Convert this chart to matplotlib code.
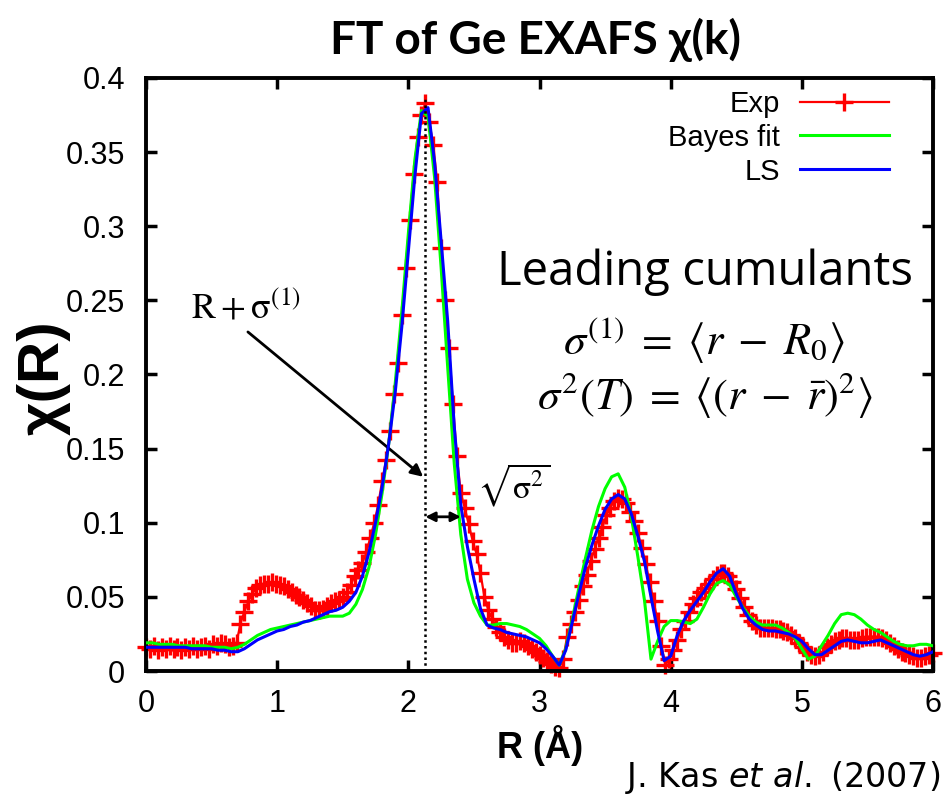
import numpy as np
import matplotlib
matplotlib.use('Agg')
import matplotlib.pyplot as plt

plt.rcParams['font.family'] = 'Liberation Sans'
plt.rcParams['mathtext.fontset'] = 'stix'

# measured FT magnitude, R grid 0..6 A
r_exp = np.round(np.arange(201) * 0.03, 2)
chi_exp = [
    0.016, 0.015, 0.017, 0.014, 0.016, 0.015, 0.017, 0.015, 0.016, 0.014,
    0.016, 0.015, 0.017, 0.015, 0.016, 0.017, 0.015, 0.018, 0.017, 0.019,
    0.018, 0.016, 0.017, 0.019, 0.032, 0.040, 0.047, 0.052, 0.056, 0.058,
    0.059, 0.059, 0.060, 0.059, 0.058, 0.057, 0.055, 0.053, 0.051, 0.050,
    0.048, 0.046, 0.044, 0.041, 0.041, 0.042, 0.044, 0.046, 0.047, 0.048,
    0.050, 0.053, 0.058, 0.064, 0.068, 0.073, 0.080, 0.090, 0.100, 0.112,
    0.128, 0.142, 0.162, 0.187, 0.208, 0.240, 0.272, 0.304, 0.335, 0.360,
    0.375, 0.383, 0.370, 0.355, 0.330, 0.285, 0.250, 0.218, 0.180, 0.145,
    0.120, 0.110, 0.099, 0.088, 0.079, 0.066, 0.050, 0.041, 0.035, 0.030,
    0.026, 0.023, 0.021, 0.019, 0.019, 0.020, 0.019, 0.017, 0.015, 0.013,
    0.011, 0.009, 0.007, 0.005, 0.003, 0.002, 0.008, 0.023, 0.032, 0.040,
    0.048, 0.057, 0.065, 0.074, 0.082, 0.090, 0.097, 0.105, 0.110, 0.115,
    0.117, 0.116, 0.113, 0.107, 0.101, 0.093, 0.083, 0.072, 0.060, 0.047,
    0.034, 0.017, 0.004, 0.008, 0.014, 0.021, 0.028, 0.034, 0.040, 0.045,
    0.049, 0.053, 0.056, 0.059, 0.062, 0.065, 0.066, 0.066, 0.064, 0.060,
    0.055, 0.049, 0.043, 0.038, 0.034, 0.031, 0.029, 0.029, 0.029, 0.029,
    0.028, 0.028, 0.027, 0.026, 0.024, 0.022, 0.019, 0.016, 0.013, 0.011,
    0.010, 0.011, 0.013, 0.016, 0.018, 0.020, 0.021, 0.022, 0.022, 0.021,
    0.021, 0.021, 0.022, 0.023, 0.023, 0.023, 0.023, 0.022, 0.021, 0.019,
    0.017, 0.015, 0.013, 0.012, 0.011, 0.010, 0.009, 0.009, 0.010, 0.011,
    0.012,
]

# fits, R grid 0..6 A step 0.05
r_fit = np.round(np.arange(121) * 0.05, 2)
chi_bayes = [
    0.019, 0.019, 0.018, 0.018, 0.018, 0.017, 0.017, 0.017, 0.017, 0.017,
    0.016, 0.016, 0.016, 0.015, 0.016, 0.018, 0.021, 0.024, 0.026, 0.028,
    0.029, 0.030, 0.031, 0.032, 0.033, 0.034, 0.035, 0.036, 0.037, 0.037,
    0.037, 0.039, 0.045, 0.055, 0.070, 0.092, 0.120, 0.153, 0.194, 0.242,
    0.295, 0.345, 0.378, 0.374, 0.333, 0.272, 0.205, 0.140, 0.092, 0.062,
    0.046, 0.037, 0.031, 0.031, 0.032, 0.032, 0.031, 0.030, 0.028, 0.025,
    0.022, 0.017, 0.010, 0.004, 0.015, 0.035, 0.056, 0.076, 0.095, 0.111,
    0.123, 0.131, 0.133, 0.124, 0.104, 0.077, 0.048, 0.008, 0.020, 0.030,
    0.034, 0.034, 0.033, 0.032, 0.035, 0.043, 0.052, 0.059, 0.061, 0.058,
    0.050, 0.043, 0.037, 0.033, 0.031, 0.031, 0.031, 0.029, 0.026, 0.022,
    0.015, 0.008, 0.010, 0.017, 0.024, 0.032, 0.038, 0.039, 0.038, 0.035,
    0.031, 0.028, 0.026, 0.023, 0.020, 0.018, 0.017, 0.017, 0.018, 0.018,
    0.017,
]
chi_ls = [
    0.016, 0.016, 0.016, 0.016, 0.016, 0.016, 0.016, 0.015, 0.015, 0.015,
    0.015, 0.014, 0.014, 0.013, 0.013, 0.015, 0.018, 0.021, 0.023, 0.025,
    0.027, 0.028, 0.030, 0.031, 0.033, 0.034, 0.036, 0.038, 0.040, 0.041,
    0.043, 0.047, 0.053, 0.064, 0.080, 0.100, 0.124, 0.153, 0.188, 0.232,
    0.283, 0.334, 0.376, 0.380, 0.343, 0.290, 0.236, 0.165, 0.112, 0.084,
    0.062, 0.042, 0.031, 0.029, 0.028, 0.026, 0.025, 0.024, 0.023, 0.021,
    0.019, 0.015, 0.010, 0.004, 0.014, 0.033, 0.052, 0.070, 0.085, 0.098,
    0.109, 0.116, 0.119, 0.116, 0.106, 0.091, 0.074, 0.050, 0.027, 0.007,
    0.010, 0.024, 0.034, 0.041, 0.047, 0.053, 0.060, 0.066, 0.069, 0.064,
    0.052, 0.042, 0.035, 0.031, 0.028, 0.027, 0.027, 0.026, 0.025, 0.023,
    0.020, 0.015, 0.011, 0.011, 0.014, 0.017, 0.020, 0.021, 0.020, 0.019,
    0.019, 0.020, 0.021, 0.019, 0.017, 0.015, 0.013, 0.011, 0.010, 0.011,
    0.013,
]

x_ticks = [0, 1, 2, 3, 4, 5, 6]
y_ticks = [0, 0.05, 0.1, 0.15, 0.2, 0.25, 0.3, 0.35, 0.4]
y_labels = ['0', '0.05', '0.1', '0.15', '0.2', '0.25', '0.3', '0.35', '0.4']

# first-shell markers
peak_r = 2.13
peak_top = 0.387
width_end = 2.40
width_level = 0.104

fig = plt.figure(figsize=(9.45, 7.99), dpi=100)
ax = fig.add_axes([0.1545, 0.1602, 0.8328, 0.7422])

ax.plot(r_exp, chi_exp, color='#ff0000', lw=1.6, marker='+', ms=13, mew=2.4,
        clip_on=False, label='Exp', zorder=2)
ax.plot(r_fit, chi_bayes, color='#00ff00', lw=2.2, label='Bayes fit', zorder=3)
ax.plot(r_fit, chi_ls, color='#0000ff', lw=2.2, label='LS', zorder=4)

ax.set_xlim(0, 6)
ax.set_ylim(0, 0.4)
ax.set_xticks(x_ticks)
ax.set_yticks(y_ticks)
ax.set_yticklabels(y_labels)
ax.tick_params(direction='in', length=8, width=2.5, top=True, right=True,
               labelsize=22)
ax.tick_params(axis='y', pad=15)
ax.tick_params(axis='x', pad=13)
for s in ax.spines.values():
    s.set_linewidth(2.8)

ax.legend(loc='upper right', bbox_to_anchor=(0.944, 0.98), frameon=False,
          markerfirst=False, fontsize=21, handlelength=3.05, labelspacing=0.2,
          handletextpad=0.68, borderaxespad=0, borderpad=0)

# R + sigma(1) marker and width arrow
ax.plot([peak_r, peak_r], [0, peak_top], color='k', lw=1.8, ls=(0, (1, 1.3)),
        zorder=5)
ax.annotate('', xy=(2.113, 0.131), xytext=(0.777, 0.2287),
            arrowprops=dict(arrowstyle='-|>', color='k', lw=2,
                            mutation_scale=18, shrinkA=0, shrinkB=0))
ax.text(0.762, 0.2445, r'$\mathrm{R+\sigma^{(1)}}$', fontsize=26,
        ha='center', va='center')
ax.annotate('', xy=(width_end, width_level), xytext=(peak_r, width_level),
            arrowprops=dict(arrowstyle='<|-|>', color='k', lw=2,
                            mutation_scale=14, shrinkA=0, shrinkB=0), zorder=6)
ax.text(2.80, 0.125, r'$\sqrt{\mathrm{\sigma}^2}$', fontsize=24, ha='center',
        va='center')

fig.text(705 / 945, 1 - 272 / 799, 'Leading cumulants', family='Open Sans',
         fontsize=34, ha='center', va='center')
fig.text(704 / 945, 1 - 340 / 799,
         r'$\sigma^{(1)}\;=\;\langle r\;-\;R_0 \rangle$',
         fontsize=32, ha='center', va='center')
fig.text(705 / 945, 1 - 395 / 799,
         r'$\sigma^2(T)\;=\;\langle (r\;-\;\bar{r})^2 \rangle$',
         fontsize=32, ha='center', va='center')

fig.text(535 / 945, 1 - 40 / 799, 'FT of Ge EXAFS χ(k)', family='Lato',
         fontsize=33, fontweight='bold', ha='center', va='center')
fig.text(44 / 945, 1 - 378 / 799, 'χ(R)', rotation=90, fontsize=42,
         fontweight='bold', ha='center', va='center')
fig.text(540 / 945, 1 - 745 / 799, 'R (Å)', fontsize=26, fontweight='bold',
         ha='center', va='center')
fig.text(940 / 945, 1 - 778 / 799, r'J. Kas $\mathit{et\ al.}$ (2007)',
         family='DejaVu Sans', math_fontfamily='dejavusans', fontsize=24,
         ha='right', va='center')

fig.savefig('out.png', dpi=100)
